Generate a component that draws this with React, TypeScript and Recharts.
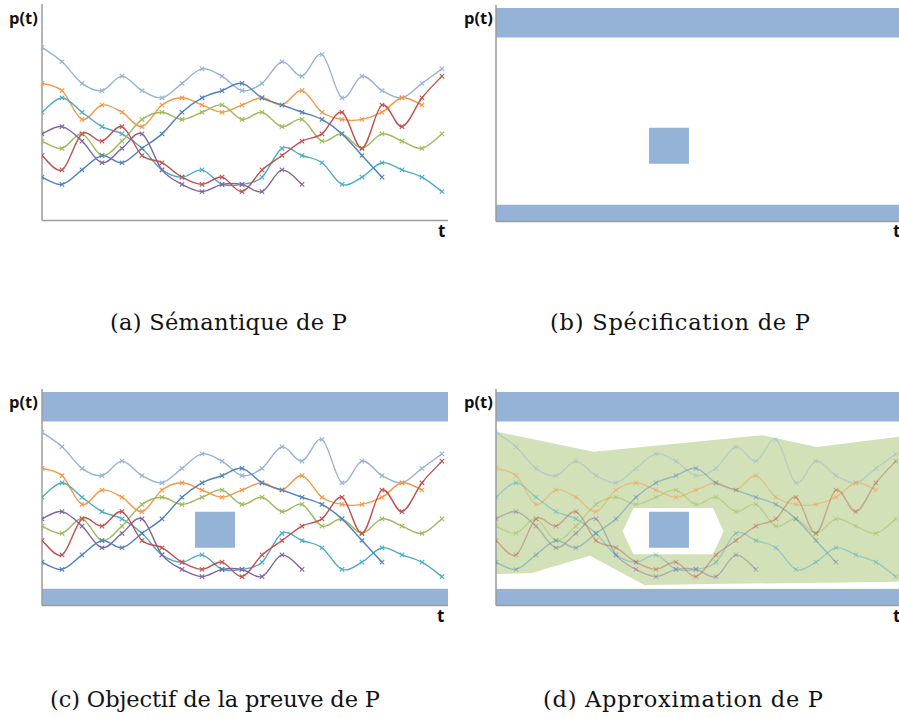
import React from "react";
import { ComposedChart, Line, Area, XAxis, YAxis, ReferenceArea, ReferenceLine } from "recharts";

// sampling instants (x grid) shared by every trajectory
const times = [0, 1, 2, 3, 4, 5, 6, 7, 8, 9, 10, 11, 12, 13, 14, 15, 16, 17, 18, 19, 20];

// trajectories p(t)
const lightBlue = [24, 22, 19, 18, 20, 18, 17, 19, 21, 20, 18, 19, 22, 20, 23, 17, 20, 18, 17, 19, 21];
const orange = [19, 18, 14, 16, 15, 13, 16, 17, 16, 15, 16, 17, 16, 18, 15, 14, 14, 15, 17, 16];
const teal = [15, 17, 15, 13, 12, 10, 7, 6, 7, 5, 5, 6, 10, 9, 8, 5, 6, 8, 7, 6, 4];
const green = [11, 10, 12, 9, 11, 14, 15, 14, 15, 16, 14, 15, 13, 14, 11, 12, 10, 12, 11, 10, 12];
const red = [9, 7, 12, 11, 13, 9, 8, 6, 5, 6, 4, 7, 9, 11, 12, 15, 10, 16, 13, 17, 20];
const purple = [12, 13, 11, 8, 10, 12, 7, 5, 4, 5, 5, 4, 7, 5];
const darkBlue = [6, 5, 7, 9, 8, 10, 12, 15, 17, 18, 19, 17, 16, 15, 14, 12, 9, 6];

// specification: forbidden zones
const upperBand = [25.5, 29.6];
const lowerBand = [0, 2.3];
const targetT = [7.65, 9.65];
const targetP = [8, 13];

// over-approximation hull (panel d)
const hullTopT = [0, 4.88, 13.3, 16.05, 20.17];
const hullTop = [24.1, 21.3, 23.6, 21.95, 23.4];
const hullBottomT = [0, 1.8, 4.7, 7.43, 20.17];
const hullBottom = [4.35, 4.5, 6.9, 2.85, 3.3];
const holeT = [6.33, 6.88, 10.85, 11.38];
const holeLow = [10.26, 7.1, 7.1, 10.26];
const holeHigh = [10.26, 13.5, 13.5, 10.26];

const captions = [
  "(a) Sémantique de P",
  "(b) Spécification de P",
  "(c) Objectif de la preuve de P",
  "(d) Approximation de P",
];

const series = [
  { key: "lightBlue", color: "#95B3D7", values: lightBlue },
  { key: "orange", color: "#F79646", values: orange },
  { key: "teal", color: "#4BACC6", values: teal },
  { key: "green", color: "#9BBB59", values: green },
  { key: "purple", color: "#8064A2", values: purple },
  { key: "darkBlue", color: "#4F81BD", values: darkBlue },
  { key: "red", color: "#C0504D", values: red },
];

const bandBlue = "#95B3D7";
const hullFill = "#D2E1B7";
const axisGray = "#9C9C9C";

const baseRows = times.map((t, i) => {
  const r: any = { t };
  series.forEach((s) => {
    if (i < s.values.length) r[s.key] = s.values[i];
  });
  return r;
});

const hullRows = (() => {
  const byT = new Map<number, any>();
  baseRows.forEach((r) => byT.set(r.t, { ...r }));
  const put = (t: number, key: string, v: any) => {
    const r = byT.get(t) ?? { t };
    r[key] = v;
    byT.set(t, r);
  };
  hullTopT.forEach((t, i) => put(t, "hullTop", hullTop[i]));
  hullBottomT.forEach((t, i) => put(t, "hullBottom", hullBottom[i]));
  holeT.forEach((t, i) => put(t, "hole", [holeLow[i], holeHigh[i]]));
  targetT.forEach((t) => put(t, "target", [targetP[0], targetP[1]]));
  return [...byT.values()].sort((a, b) => a.t - b.t);
})();

// Excel-like smoothed line (Catmull-Rom through the points)
const smooth = (context: any) => {
  let pts: number[][] = [];
  return {
    areaStart() {},
    areaEnd() {},
    lineStart() {
      pts = [];
    },
    point(x: number, y: number) {
      pts.push([+x, +y]);
    },
    lineEnd() {
      const n = pts.length;
      if (!n) return;
      context.moveTo(pts[0][0], pts[0][1]);
      for (let i = 0; i < n - 1; i++) {
        const p0 = pts[Math.max(i - 1, 0)];
        const p1 = pts[i];
        const p2 = pts[i + 1];
        const p3 = pts[Math.min(i + 2, n - 1)];
        context.bezierCurveTo(
          p1[0] + (p2[0] - p0[0]) / 6,
          p1[1] + (p2[1] - p0[1]) / 6,
          p2[0] - (p3[0] - p1[0]) / 6,
          p2[1] - (p3[1] - p1[1]) / 6,
          p2[0],
          p2[1]
        );
      }
    },
  };
};

const cross = (props: any, color: string, opacity: number) => {
  const { cx, cy, index } = props;
  if (cx == null || cy == null) return <g key={index} />;
  const r = 2.2;
  return (
    <path
      key={index}
      d={`M${cx - r},${cy - r}L${cx + r},${cy + r}M${cx - r},${cy + r}L${cx + r},${cy - r}`}
      stroke={color}
      strokeOpacity={opacity}
      strokeWidth={1.1}
      fill="none"
    />
  );
};

type PanelProps = {
  x0: number;
  y0: number;
  x1: number;
  y1: number;
  tMax: number;
  lines?: boolean;
  spec?: boolean;
  hull?: boolean;
};

function Panel({ x0, y0, x1, y1, tMax, lines, spec, hull }: PanelProps) {
  const pad = 6;
  const opacity = hull ? 0.42 : 1;
  return (
    <div style={{ position: "absolute", left: x0 - pad, top: y0 - pad }}>
      <ComposedChart
        width={x1 - x0 + 2 * pad}
        height={y1 - y0 + 2 * pad}
        data={hull ? hullRows : baseRows}
        margin={{ top: pad, right: pad, bottom: pad, left: pad }}
      >
        <XAxis type="number" dataKey="t" domain={[0, tMax]} allowDataOverflow hide />
        <YAxis type="number" domain={[0, 30]} allowDataOverflow hide />
        <ReferenceLine x={0} stroke={axisGray} strokeWidth={1.5} />
        <ReferenceLine y={0} stroke={axisGray} strokeWidth={1.5} />
        {spec && (
          <ReferenceArea x1={0} x2={tMax} y1={upperBand[0]} y2={upperBand[1]} fill={bandBlue} fillOpacity={1} stroke="none" />
        )}
        {spec && (
          <ReferenceArea x1={0} x2={tMax} y1={lowerBand[0]} y2={lowerBand[1]} fill={bandBlue} fillOpacity={1} stroke="none" />
        )}
        {spec && !hull && (
          <ReferenceArea x1={targetT[0]} x2={targetT[1]} y1={targetP[0]} y2={targetP[1]} fill={bandBlue} fillOpacity={1} stroke="none" />
        )}
        {hull && (
          <Area dataKey="hullTop" type="linear" baseValue={lowerBand[1]} fill={hullFill} fillOpacity={1} stroke="none" connectNulls dot={false} activeDot={false} isAnimationActive={false} />
        )}
        {hull && (
          <Area dataKey="hullBottom" type="linear" baseValue={lowerBand[1]} fill="#FFFFFF" fillOpacity={1} stroke="none" connectNulls dot={false} activeDot={false} isAnimationActive={false} />
        )}
        {hull && (
          <Area dataKey="hole" type="linear" fill="#FFFFFF" fillOpacity={1} stroke="none" connectNulls dot={false} activeDot={false} isAnimationActive={false} />
        )}
        {hull && (
          <Area dataKey="target" type="linear" fill={bandBlue} fillOpacity={1} stroke="none" connectNulls dot={false} activeDot={false} isAnimationActive={false} />
        )}
        {lines &&
          series.map((s) => (
            <Line
              key={s.key}
              dataKey={s.key}
              type={smooth as any}
              stroke={s.color}
              strokeOpacity={opacity}
              strokeWidth={1.4}
              connectNulls
              dot={(p: any) => cross(p, s.color, opacity)}
              activeDot={false}
              isAnimationActive={false}
            />
          ))}
      </ComposedChart>
    </div>
  );
}

const labelFont = "'Open Sans', sans-serif";
const captionFont = "'DejaVu Serif', serif";

export default function App() {
  return (
    <div
      style={{
        position: "absolute",
        left: 0,
        top: 0,
        width: 899,
        height: 718,
        overflow: "hidden",
        background: "#fff",
      }}
    >
      <Panel x0={41.7} y0={3.55} x1={447.7} y1={220} tMax={20.3} lines />
      <Panel x0={495.7} y0={5.25} x1={899} y1={221.7} tMax={20.17} spec />
      <Panel x0={41.7} y0={389.25} x1={447.7} y1={605.7} tMax={20.3} lines spec />
      <Panel x0={495.7} y0={389.25} x1={899} y1={605.7} tMax={20.17} lines spec hull />
      <svg
        width={899}
        height={718}
        style={{ position: "absolute", left: 0, top: 0, pointerEvents: "none" }}
      >
        <g fontFamily={labelFont} fontWeight={700} fill="#111">
          <text x={9} y={23.5} fontSize={16.5}>p(t)</text>
          <text x={464} y={23.5} fontSize={16.5}>p(t)</text>
          <text x={9} y={408} fontSize={16.5}>p(t)</text>
          <text x={464} y={408} fontSize={16.5}>p(t)</text>
          <text x={438} y={237} fontSize={17}>t</text>
          <text x={893} y={237} fontSize={17}>t</text>
          <text x={437} y={621.5} fontSize={17}>t</text>
          <text x={893} y={621.5} fontSize={17}>t</text>
        </g>
        <g fontFamily={captionFont} fontSize={22.5} fill="#111">
          <text x={110} y={329.5} textLength={237}>{captions[0]}</text>
          <text x={550} y={329.5} textLength={260}>{captions[1]}</text>
          <text x={50} y={706.5} textLength={330}>{captions[2]}</text>
          <text x={543} y={706.5} textLength={280}>{captions[3]}</text>
        </g>
      </svg>
    </div>
  );
}
